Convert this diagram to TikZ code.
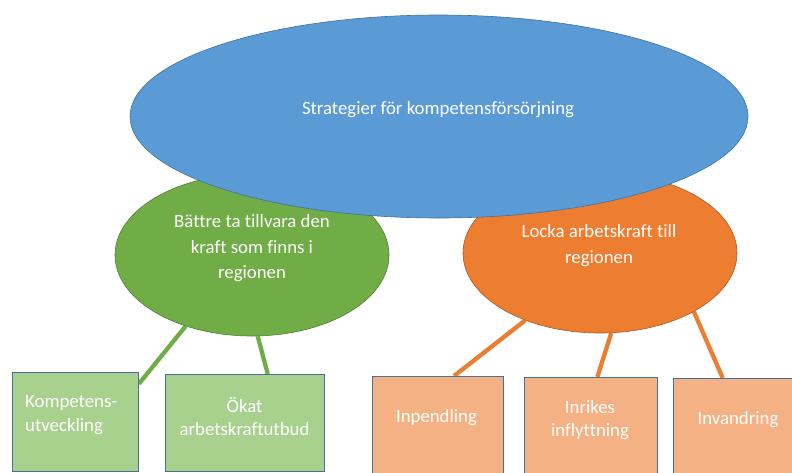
\documentclass[tikz,border=0pt]{standalone}
\usepackage{fontspec}
\setmainfont{Carlito}[Ligatures=NoCommon]
\usetikzlibrary{shapes.geometric,backgrounds}
\definecolor{cblue}{HTML}{5B9BD5}
\definecolor{cblueD}{HTML}{41719C}
\definecolor{cgreen}{HTML}{70AD47}
\definecolor{cgreenD}{HTML}{507E32}
\definecolor{corange}{HTML}{ED7D31}
\definecolor{corangeD}{HTML}{AE5A21}
\definecolor{cgl}{HTML}{A9D18E}
\definecolor{col}{HTML}{F4B183}
\begin{document}
\begin{tikzpicture}[x=1pt,y=-1pt,
  ell/.style={ellipse, inner sep=0pt, line width=0.6pt},
  boxn/.style={rectangle, inner sep=0pt, draw=cblueD, line width=0.9pt, anchor=north west},
  txt/.style={text=white, inner sep=0pt, font=\fontsize{18.8}{25.5}\selectfont},
  btxt/.style={text=white, inner sep=0pt, font=\fontsize{18.8}{23.5}\selectfont},
  gline/.style={draw=cgreen, line width=4.3pt},
  oline/.style={draw=corange, line width=4.3pt}]
\useasboundingbox (0,0) rectangle (792,472);
\clip (0,0) rectangle (792,472);
% mid ellipses
\node[ell, fill=cgreen, draw=cgreenD, minimum width=274pt, minimum height=162pt] (green) at (252,255) {};
\node[ell, fill=corange, draw=corangeD, minimum width=274pt, minimum height=160pt] (orange) at (600,253) {};
% top ellipse
\node[ell, fill=cblue, draw=cblueD, minimum width=618pt, minimum height=203pt] (top) at (439,116.5) {};
% texts of ellipses
\node[txt] (top-t) at (438,110) {Strategier för kompetensförsörjning};
\node[txt, align=center] (green-t) at (252,248.5) {Bättre ta tillvara den\\kraft som finns i\\regionen};
\node[txt, align=center] (orange-t) at (599,245.5) {Locka arbetskraft till\\regionen};
% boxes
\node[boxn, fill=cgl, minimum width=126pt, minimum height=99pt] (komp) at (12,372) {};
\node[boxn, fill=cgl, minimum width=159pt, minimum height=97pt] (okat) at (165,374) {};
\node[boxn, fill=col, minimum width=131pt, minimum height=104pt] (inp) at (372,376) {};
\node[boxn, fill=col, minimum width=133pt, minimum height=103pt] (inr) at (524,377) {};
\node[boxn, fill=col, minimum width=130pt, minimum height=102pt] (inv) at (673,378) {};
% box texts
\node[btxt, align=left, anchor=west] (komp-t) at (25,415) {Kompetens-\\utveckling};
\node[btxt, align=center] (okat-t) at (244.5,416.5) {Ökat\\arbetskraftutbud};
\node[btxt] (inp-t) at (436.5,418) {Inpendling};
\node[btxt, align=center] (inr-t) at (590,420) {Inrikes\\inflyttning};
\node[btxt] (inv-t) at (738,420) {Invandring};
% connectors
\begin{scope}[on background layer]
\draw[gline] (green.227.5) -- (komp.31);
\draw[gline] (green.274.2) -- (okat.65.1);
\draw[oline] (orange.222.6) -- (inp.73.4);
\draw[oline] (orange.278.4) -- (inr.83.9);
\draw[oline] (orange.328) -- (inv.107.4);
\end{scope}
\end{tikzpicture}
\end{document}
